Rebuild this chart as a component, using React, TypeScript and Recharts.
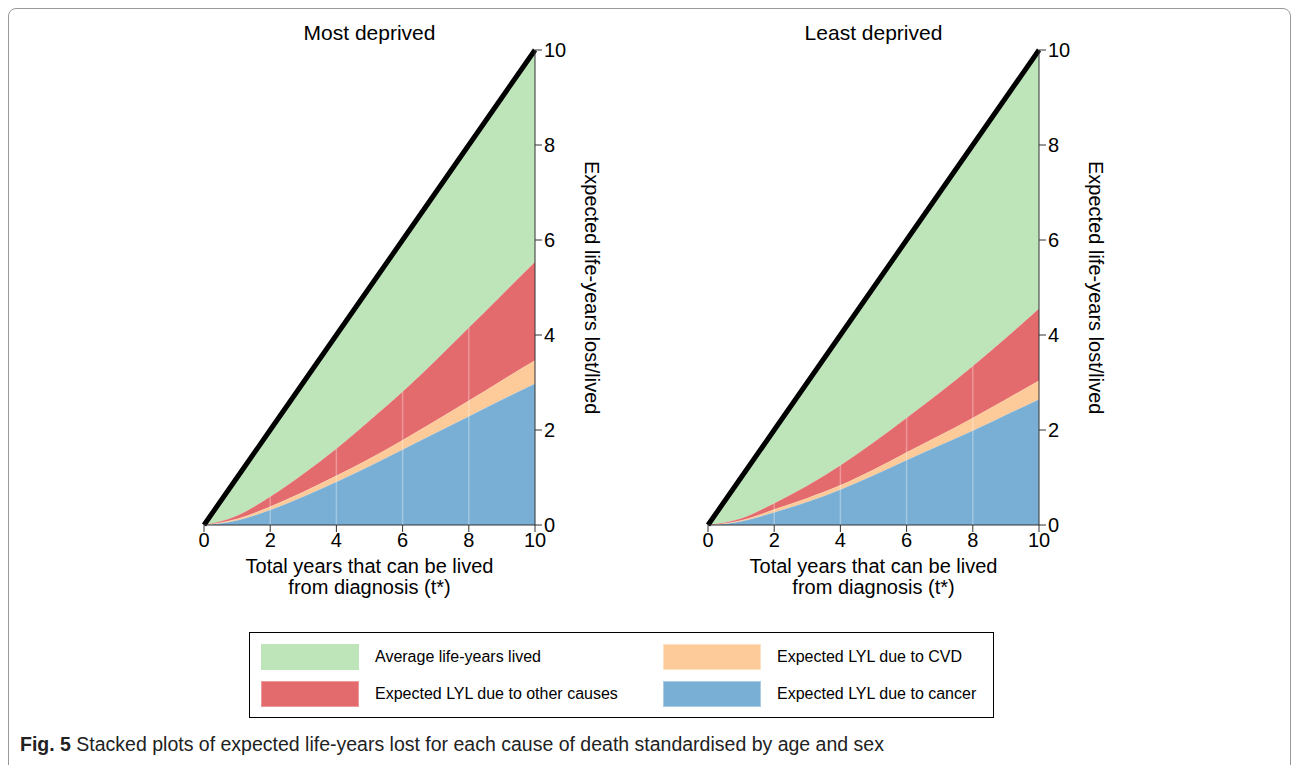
import { Area, ComposedChart, Line, ReferenceLine, XAxis, YAxis } from "recharts";

const YEARS = [0, 1, 2, 3, 4, 5, 6, 7, 8, 9, 10];
const TICKS = [0, 2, 4, 6, 8, 10];

// Most deprived
const MOST_CANCER = [0, 0.1, 0.32, 0.6, 0.91, 1.24, 1.59, 1.94, 2.29, 2.64, 2.98];
const MOST_CVD = [0, 0.03, 0.07, 0.1, 0.13, 0.16, 0.2, 0.26, 0.33, 0.41, 0.49];
const MOST_OTHER = [0, 0.07, 0.21, 0.38, 0.57, 0.8, 1.02, 1.27, 1.54, 1.8, 2.07];
const MOST_LIVED = [0, 0.8, 1.4, 1.92, 2.39, 2.8, 3.19, 3.53, 3.84, 4.15, 4.46];

// Least deprived
const LEAST_CANCER = [0, 0.08, 0.27, 0.49, 0.75, 1.05, 1.37, 1.68, 1.99, 2.32, 2.65];
const LEAST_CVD = [0, 0.02, 0.06, 0.08, 0.09, 0.12, 0.16, 0.21, 0.27, 0.33, 0.39];
const LEAST_OTHER = [0, 0.04, 0.13, 0.26, 0.42, 0.57, 0.73, 0.9, 1.09, 1.29, 1.52];
const LEAST_LIVED = [0, 0.86, 1.54, 2.17, 2.74, 3.26, 3.74, 4.21, 4.65, 5.06, 5.44];

const GREEN = "#bee4b9";
const RED = "#e46b6d";
const ORANGE = "#fdca99";
const BLUE = "#79afd4";
const FONT = "'Liberation Sans', Arial, sans-serif";

type Row = { t: number; cancer: number; cvd: number; other: number; lived: number; total: number };

function buildRows(cancer: number[], cvd: number[], other: number[], lived: number[]): Row[] {
  return YEARS.map((t, i) => ({
    t,
    cancer: cancer[i],
    cvd: cvd[i],
    other: other[i],
    lived: lived[i],
    total: cancer[i] + cvd[i] + other[i] + lived[i],
  }));
}

const CHART_W = 460;
const CHART_H = 620;
const PLOT_LEFT = 24; // inside chart
const PLOT_W = 331;

function Panel({ title, rows, left }: { title: string; rows: Row[]; left: number }) {
  const plotX = left + PLOT_LEFT;
  return (
    <>
      <div
        style={{
          position: "absolute",
          left: plotX,
          width: PLOT_W,
          top: 20,
          textAlign: "center",
          fontSize: 21,
          lineHeight: "26px",
        }}
      >
        {title}
      </div>
      <div style={{ position: "absolute", left, top: 0 }}>
        <ComposedChart
          width={CHART_W}
          height={CHART_H}
          data={rows}
          margin={{ top: 50, left: PLOT_LEFT, right: 45, bottom: 20 }}
        >
          <XAxis
            dataKey="t"
            type="number"
            domain={[0, 10]}
            ticks={TICKS}
            height={75}
            tickSize={7}
            tickMargin={1}
            stroke="#333"
            tick={{ fill: "#000", fontSize: 20, fontFamily: FONT }}
            interval={0}
          />
          <YAxis
            orientation="right"
            type="number"
            domain={[0, 10]}
            ticks={TICKS}
            width={60}
            tickSize={7}
            tickMargin={2}
            stroke="#333"
            tick={{ fill: "#000", fontSize: 20, fontFamily: FONT }}
            interval={0}
          />
          <Area type="monotone" dataKey="cancer" stackId="s" fill={BLUE} fillOpacity={1} stroke="#a9cde6" strokeWidth={1} isAnimationActive={false} />
          <Area type="monotone" dataKey="cvd" stackId="s" fill={ORANGE} fillOpacity={1} stroke="#fee0c2" strokeWidth={1} isAnimationActive={false} />
          <Area type="monotone" dataKey="other" stackId="s" fill={RED} fillOpacity={1} stroke="#ef9a9b" strokeWidth={1} isAnimationActive={false} />
          <Area type="monotone" dataKey="lived" stackId="s" fill={GREEN} fillOpacity={1} stroke="none" isAnimationActive={false} />
          {rows
            .filter((r) => r.t > 0 && r.t < 10 && r.t % 2 === 0)
            .map((r) => (
              <ReferenceLine
                key={r.t}
                segment={[
                  { x: r.t, y: 0 },
                  { x: r.t, y: r.cancer + r.cvd + r.other },
                ]}
                stroke="#ffffff"
                strokeOpacity={0.3}
                strokeWidth={1.5}
              />
            ))}
          <Line type="linear" dataKey="total" stroke="#000" strokeWidth={5} dot={false} isAnimationActive={false} />
        </ComposedChart>
      </div>
      <div
        style={{
          position: "absolute",
          left: plotX,
          width: PLOT_W,
          top: 556,
          textAlign: "center",
          fontSize: 20,
          lineHeight: "21px",
        }}
      >
        Total years that can be lived
        <br />
        from diagnosis (t*)
      </div>
      <div
        style={{
          position: "absolute",
          left: plotX + PLOT_W + 45,
          top: 50,
          height: 475,
          writingMode: "vertical-rl",
          textAlign: "center",
          fontSize: 20,
          lineHeight: "24px",
        }}
      >
        Expected life-years lost/lived
      </div>
    </>
  );
}

const LEGEND_ITEMS = [
  { label: "Average life-years lived", color: GREEN, border: GREEN, col: 0, row: 0 },
  { label: "Expected LYL due to other causes", color: RED, border: "#ef9a9b", col: 0, row: 1 },
  { label: "Expected LYL due to CVD", color: ORANGE, border: "#fee0c2", col: 1, row: 0 },
  { label: "Expected LYL due to cancer", color: BLUE, border: "#a9cde6", col: 1, row: 1 },
];

export default function App() {
  const most = buildRows(MOST_CANCER, MOST_CVD, MOST_OTHER, MOST_LIVED);
  const least = buildRows(LEAST_CANCER, LEAST_CVD, LEAST_OTHER, LEAST_LIVED);
  return (
    <div
      style={{
        position: "fixed",
        left: 0,
        top: 0,
        width: 1294,
        height: 765,
        background: "#fff",
        overflow: "hidden",
        fontFamily: FONT,
        color: "#000",
      }}
    >
      <div
        style={{
          position: "absolute",
          left: 8,
          top: 8,
          width: 1283,
          height: 800,
          border: "1px solid #999",
          borderRadius: 8,
          boxSizing: "border-box",
        }}
      />
      <Panel title="Most deprived" rows={most} left={180} />
      <Panel title="Least deprived" rows={least} left={684} />
      <div
        style={{
          position: "absolute",
          left: 249,
          top: 632,
          width: 745,
          height: 86,
          border: "1.5px solid #000",
          boxSizing: "border-box",
        }}
      >
        {LEGEND_ITEMS.map((item) => (
          <div
            key={item.label}
            style={{
              position: "absolute",
              left: 11 + item.col * 402,
              top: 11 + item.row * 37,
              display: "flex",
              alignItems: "center",
            }}
          >
            <div
              style={{
                width: 98,
                height: 26,
                background: item.color,
                border: `1px solid ${item.border}`,
                boxSizing: "border-box",
              }}
            />
            <span style={{ marginLeft: 16, fontSize: 16 }}>{item.label}</span>
          </div>
        ))}
      </div>
      <div
        style={{
          position: "absolute",
          left: 20,
          top: 733,
          fontSize: 19.5,
          fontFamily: FONT,
          whiteSpace: "nowrap",
          color: "#222",
        }}
      >
        <b>Fig. 5</b> Stacked plots of expected life-years lost for each cause of death standardised by age and sex
      </div>
    </div>
  );
}
